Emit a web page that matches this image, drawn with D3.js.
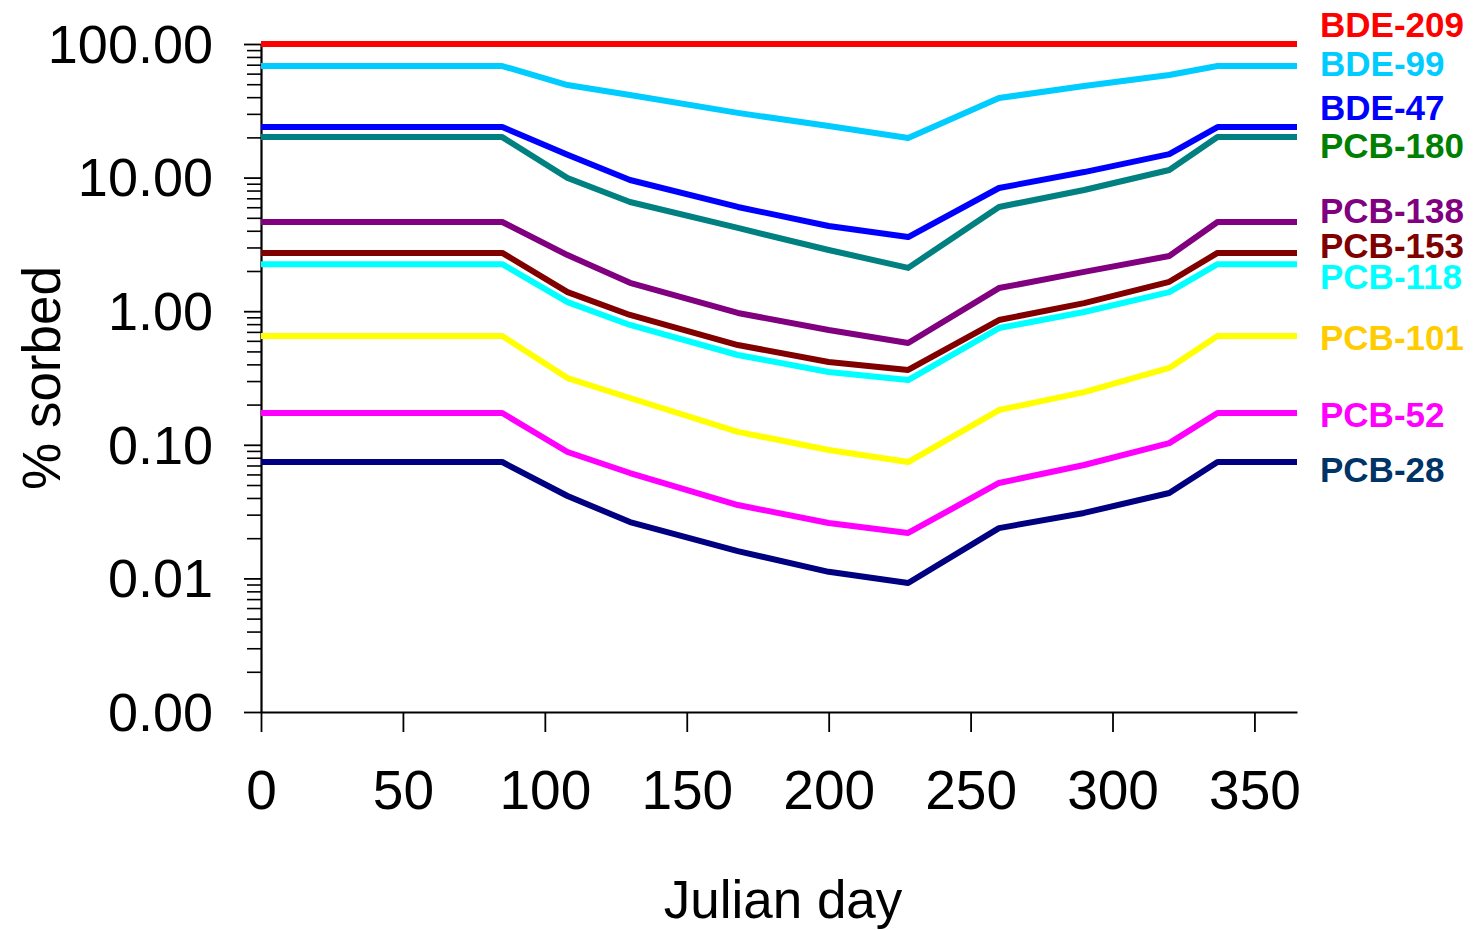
<!DOCTYPE html>
<html lang="en">
<head>
    <meta charset="UTF-8">
    <script src="https://cdn.jsdelivr.net/npm/d3@7/dist/d3.min.js"></script>
    <title>% sorbed by Julian day</title>
    <style>
        body { margin: 0; background: #fff; }
        text { font-family: "Liberation Sans", Arial, sans-serif; }
    </style>
</head>
<body>
    <svg id="chart" width="1480" height="930"></svg>

    <script>
        // data
        const days = [0, 85, 108, 130, 168, 200, 228, 260, 290, 320, 337, 365];
        const names = ['BDE-209', 'BDE-99', 'BDE-47', 'PCB-180', 'PCB-138', 'PCB-153', 'PCB-118', 'PCB-101', 'PCB-52', 'PCB-28'];
        const bde209 = [100, 100, 100, 100, 100, 100, 100, 100, 100, 100, 100, 100];
        const bde99  = [68.4, 68.4, 49.3, 41.5, 30.5, 24.3, 19.8, 39.4, 48.5, 58.6, 68.4, 68.4];
        const bde47  = [23.9, 23.9, 14.8, 9.6, 6.03, 4.34, 3.59, 8.36, 11.0, 15.0, 23.9, 23.9];
        const pcb180 = [20.1, 20.1, 9.93, 6.57, 4.20, 2.87, 2.11, 6.03, 8.07, 11.4, 20.1, 20.1];
        const pcb138 = [4.65, 4.65, 2.63, 1.63, 0.97, 0.723, 0.578, 1.49, 1.97, 2.59, 4.65, 4.65];
        const pcb153 = [2.73, 2.73, 1.39, 0.937, 0.558, 0.417, 0.363, 0.859, 1.15, 1.66, 2.73, 2.73];
        const pcb118 = [2.25, 2.25, 1.17, 0.789, 0.470, 0.351, 0.305, 0.748, 0.986, 1.39, 2.25, 2.25];
        const pcb101 = [0.652, 0.652, 0.316, 0.224, 0.125, 0.0914, 0.0743, 0.182, 0.248, 0.376, 0.652, 0.652];
        const pcb52  = [0.173, 0.173, 0.0883, 0.0615, 0.0354, 0.0260, 0.0219, 0.0518, 0.0706, 0.103, 0.173, 0.173];
        const pcb28  = [0.0743, 0.0743, 0.0414, 0.0264, 0.0160, 0.0112, 0.00924, 0.0238, 0.0309, 0.0436, 0.0743, 0.0743];
        const xTicks = [0, 50, 100, 150, 200, 250, 300, 350];
        const yTicks = [0.001, 0.01, 0.1, 1, 10, 100];

        const values = [bde209, bde99, bde47, pcb180, pcb138, pcb153, pcb118, pcb101, pcb52, pcb28];

        // styles
        const lineColors  = ['#FF0000', '#00CCFF', '#0000FF', '#008080', '#800080', '#800000', '#00FFFF', '#FFFF00', '#FF00FF', '#000080'];
        const labelColors = ['#FF0000', '#00CCFF', '#0000FF', '#008000', '#800080', '#800000', '#00FFFF', '#FFCC00', '#FF00FF', '#003366'];
        // labels are spread apart a little from the line ends (px)
        const labelShift  = [-19, -2, -19, 9, -11, -7, 13, 2, 2, 8];

        const svg = d3.select('#chart');
        const x = d3.scaleLinear().domain([0, 365]).range([261, 1297]);
        const y = d3.scaleLog().domain([0.001, 100]).range([712, 44]);

        // minor log ticks 2..9 in each decade
        const minor = [];
        yTicks.slice(0, -1).forEach(d => {
            for (let k = 2; k <= 9; k++) minor.push(d * k);
        });

        svg.append('g')
            .attr('transform', 'translate(261,0)')
            .call(d3.axisLeft(y).tickValues(minor).tickSize(14).tickFormat(''))
            .call(g => g.select('.domain').remove())
            .call(g => g.selectAll('line').attr('stroke', '#000').attr('stroke-width', 1.6));

        const yAxis = svg.append('g')
            .attr('transform', 'translate(261,0)')
            .call(d3.axisLeft(y).tickValues(yTicks).tickSize(17).tickSizeOuter(0)
                .tickPadding(31).tickFormat(d3.format('.2f')));
        yAxis.select('.domain').attr('stroke', '#000').attr('stroke-width', 2.2);
        yAxis.selectAll('line').attr('stroke', '#000').attr('stroke-width', 1.8);
        yAxis.selectAll('text').attr('font-size', 54).attr('fill', '#000').attr('dy', '0.34em');

        const xAxis = svg.append('g')
            .attr('transform', 'translate(0,712)')
            .call(d3.axisBottom(x).tickValues(xTicks).tickSize(20).tickSizeOuter(0).tickPadding(38));
        xAxis.select('.domain').attr('stroke', '#000').attr('stroke-width', 2.2);
        xAxis.selectAll('line').attr('stroke', '#000').attr('stroke-width', 1.8);
        xAxis.selectAll('text').attr('font-size', 55).attr('fill', '#000');

        // axis titles
        svg.append('text')
            .attr('x', 783).attr('y', 918)
            .attr('text-anchor', 'middle')
            .attr('font-size', 53)
            .text('Julian day');

        svg.append('text')
            .attr('transform', 'translate(60,378)rotate(-90)')
            .attr('text-anchor', 'middle')
            .attr('font-size', 53)
            .text('% sorbed');

        // series lines, bottom ones first
        const line = d3.line()
            .x((d, i) => x(days[i]))
            .y(d => y(d));

        const order = d3.range(values.length).reverse();
        svg.append('g').selectAll('path')
            .data(order)
            .enter().append('path')
            .attr('d', i => line(values[i]))
            .attr('fill', 'none')
            .attr('stroke', i => lineColors[i])
            .attr('stroke-width', 6)
            .attr('stroke-linejoin', 'round');

        // labels at the right end
        svg.append('g').selectAll('text')
            .data(names)
            .enter().append('text')
            .attr('x', 1320)
            .attr('y', (d, i) => y(values[i][values[i].length - 1]) + labelShift[i])
            .attr('dy', '0.35em')
            .attr('font-size', 35)
            .attr('font-weight', 'bold')
            .attr('fill', (d, i) => labelColors[i])
            .text(d => d);
    </script>
</body>
</html>
